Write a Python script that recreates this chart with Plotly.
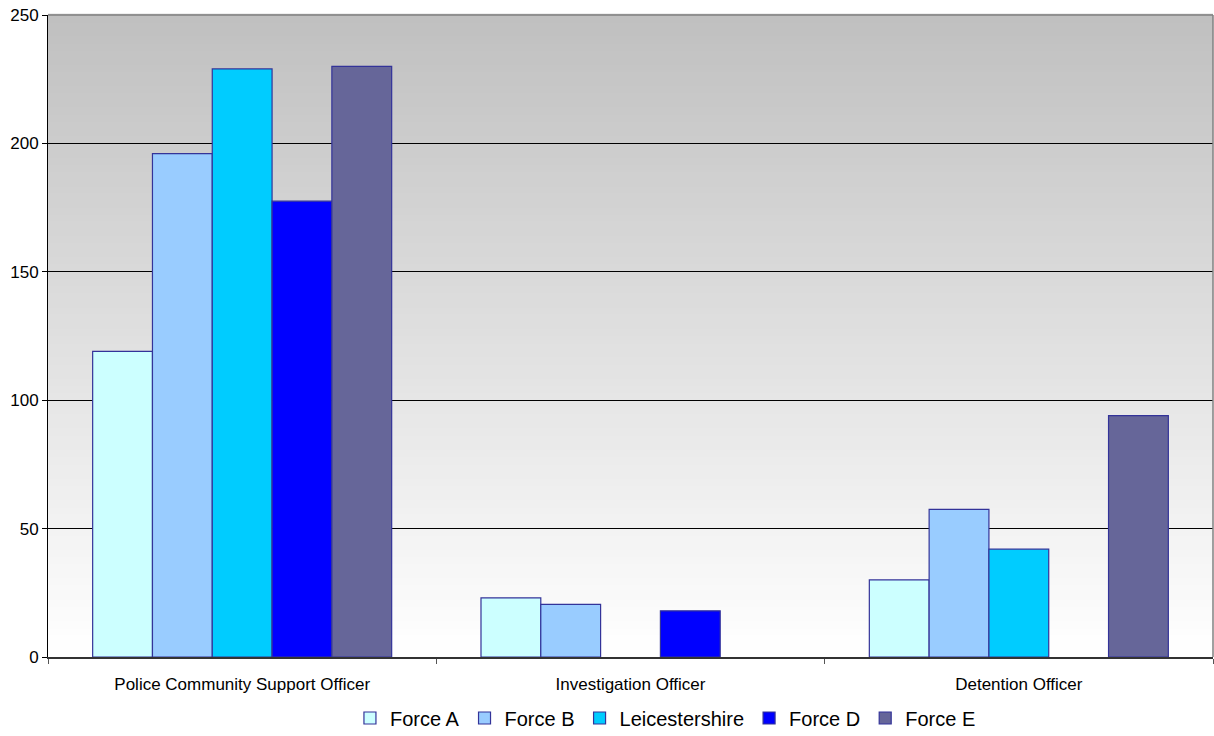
import plotly.graph_objects as go

categories = ["Police Community Support Officer", "Investigation Officer", "Detention Officer"]
forces = ["Force A", "Force B", "Leicestershire", "Force D", "Force E"]
force_a = [119, 23, 30]
force_b = [196, 20.5, 57.5]
leicestershire = [229, None, 42]
force_d = [177.5, 18, None]
force_e = [230, None, 94]
y_ticks = [0, 50, 100, 150, 200, 250]

series = [force_a, force_b, leicestershire, force_d, force_e]
colors = ["#CCFFFF", "#99CCFF", "#00CCFF", "#0000FF", "#666699"]

fig = go.Figure()
for name, vals, col in zip(forces, series, colors):
    fig.add_trace(go.Bar(
        x=categories, y=vals, name=name,
        marker=dict(color=col, line=dict(color="#333399", width=1.2)),
    ))

# vertical grey-to-white gradient behind the plot area
n = 90
shapes = []
for i in range(n):
    f = i / (n - 1)
    v = int(round(255 - (255 - 192) * f))
    shapes.append(dict(
        type="rect", xref="paper", yref="paper",
        x0=0, x1=1, y0=i / n, y1=(i + 1) / n + 0.002,
        fillcolor=f"rgb({v},{v},{v})", line=dict(width=0), layer="below",
    ))
# grey frame on top and right
shapes.append(dict(type="line", xref="paper", yref="paper", x0=0, x1=1, y0=1, y1=1,
                   line=dict(color="#808080", width=1.5), layer="above"))
shapes.append(dict(type="line", xref="paper", yref="paper", x0=1, x1=1, y0=0, y1=1,
                   line=dict(color="#808080", width=1.5), layer="above"))

fig.update_layout(
    width=1214, height=736,
    margin=dict(l=48, r=1, t=15, b=79, autoexpand=False),
    paper_bgcolor="white", plot_bgcolor="white",
    barmode="group", bargap=0.23, bargroupgap=0,
    font=dict(family="Liberation Sans, Arial, sans-serif", color="black"),
    shapes=shapes,
    showlegend=True,
    legend=dict(orientation="h", x=0.53, xanchor="center", y=-0.095, yanchor="middle",
                font=dict(size=20), itemwidth=30, traceorder="normal",
                bgcolor="rgba(0,0,0,0)"),
)
fig.update_yaxes(
    range=[0, 250], tickvals=y_ticks, showgrid=True, gridcolor="black", gridwidth=1,
    showline=True, linecolor="black", linewidth=1, ticks="outside", ticklen=5,
    tickcolor="black", tickfont=dict(size=17), zeroline=False, automargin=False,
)
fig.update_xaxes(
    showline=True, linecolor="#333333", linewidth=1.5, ticks="outside", ticklen=5,
    tickcolor="#555555", tickson="boundaries", tickfont=dict(size=17),
    ticklabelstandoff=11, showgrid=False, automargin=False,
)

fig.write_html("out.html")
